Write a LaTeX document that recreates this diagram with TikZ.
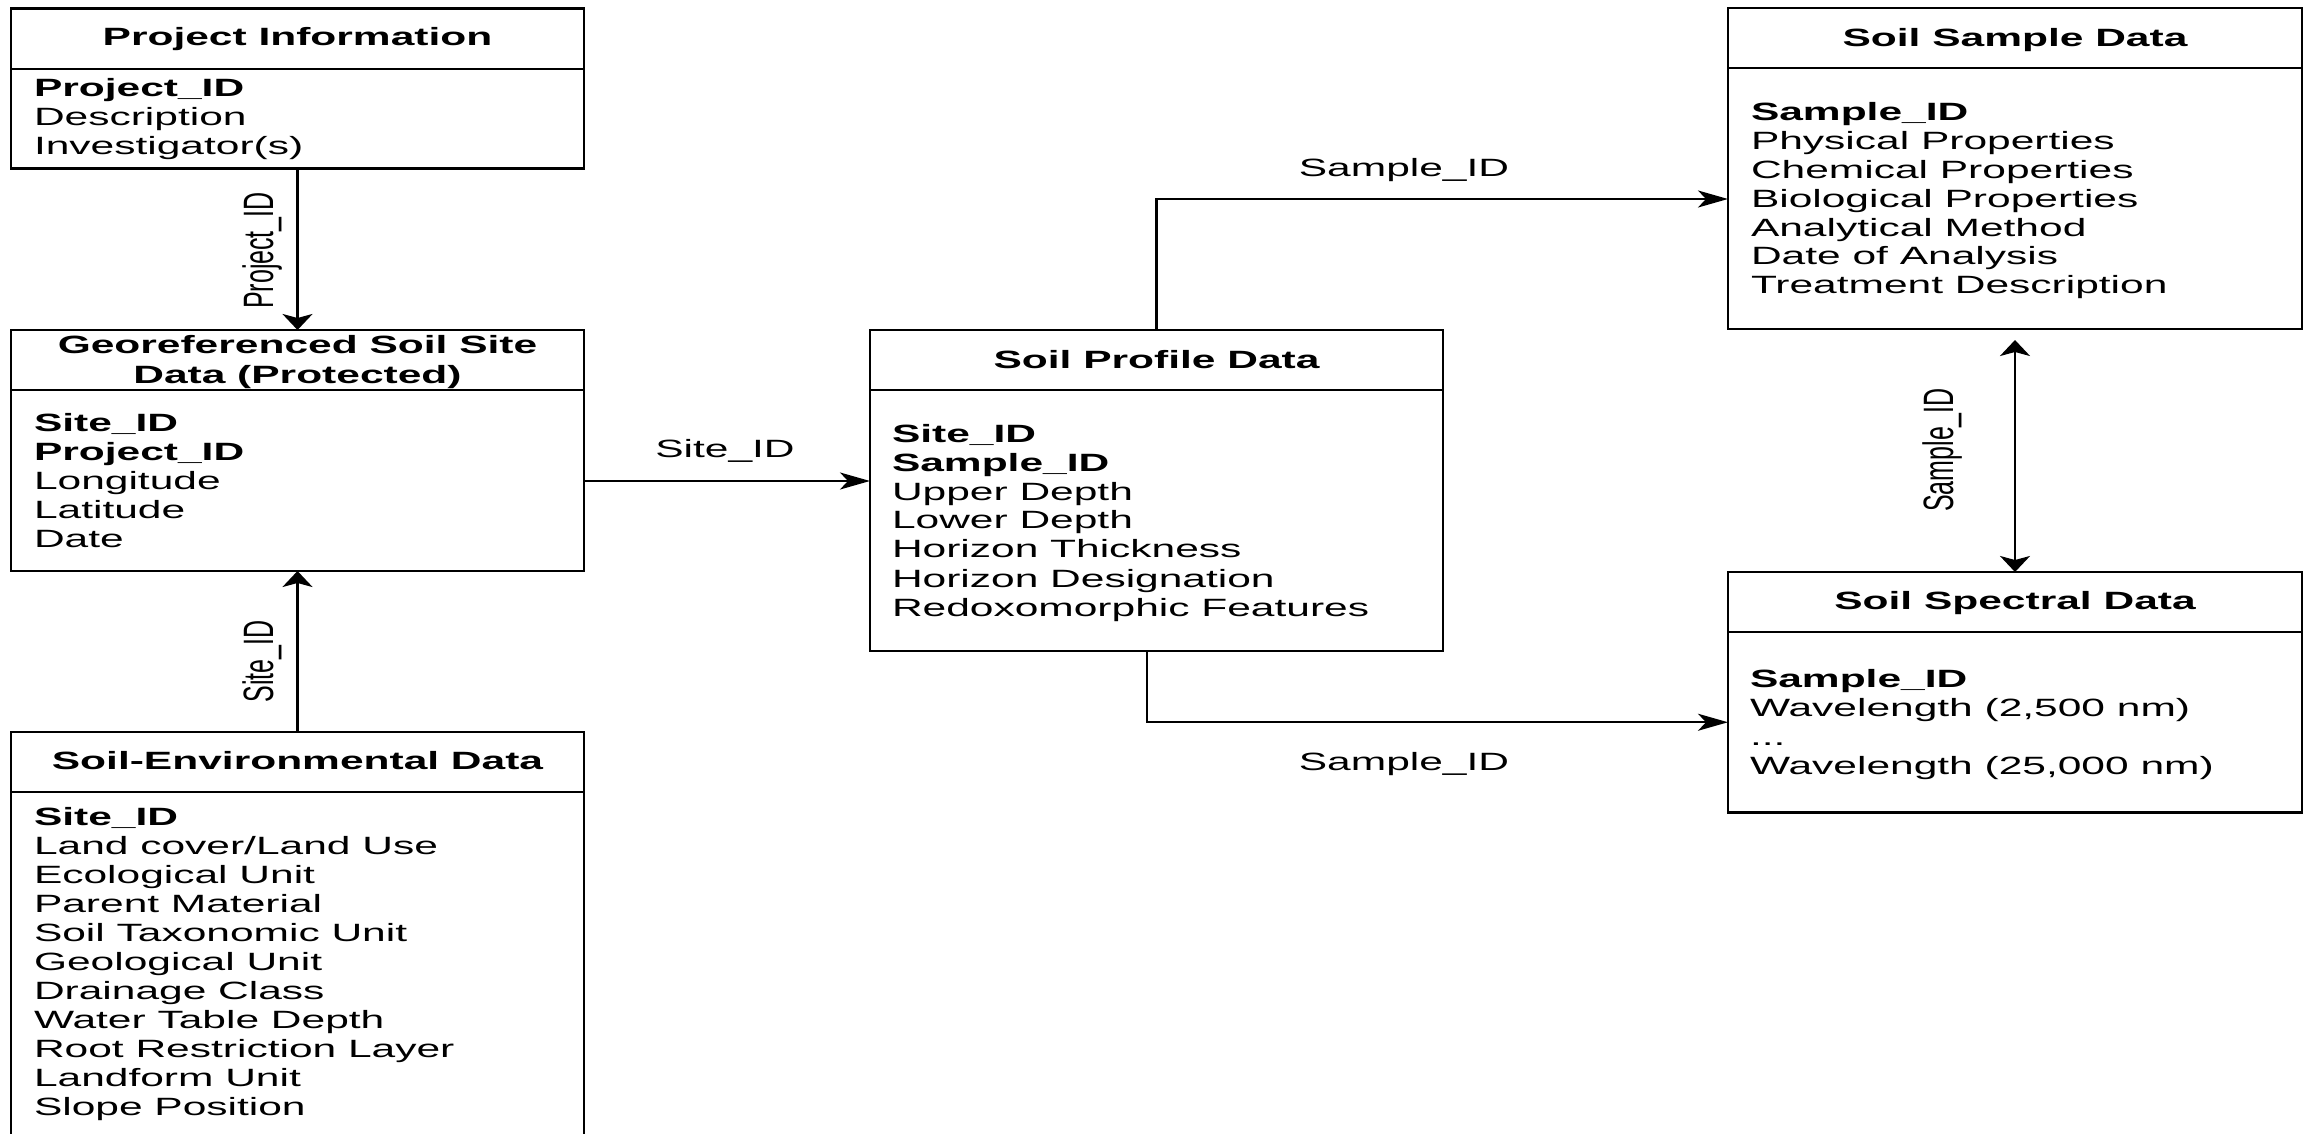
\documentclass[tikz,border=0pt]{standalone}
\usepackage{fontspec}
\usepackage{graphicx}
\setmainfont{Liberation Sans}
\newfontfamily\wf[FakeStretch=1.7]{Liberation Sans}
\usetikzlibrary{arrows.meta,calc}
\newcommand{\fl}[1]{\hbox{#1}}
\newcommand{\fieldlist}[2]{\vtop{\baselineskip=#1\relax\lineskiplimit=-10pt #2}}
\begin{document}
\begin{tikzpicture}[x=0.5pt,y=-0.5pt,
  every node/.style={font=\wf\fontsize{12.5pt}{14.5pt}\selectfont, inner sep=0pt, outer sep=0pt},
  tbox/.style={draw, line width=1.3pt, anchor=north west, minimum width=#1},
  div/.style={line width=1pt},
  ftext/.style={anchor=base west},
  htext/.style={anchor=base, font=\wf\bfseries\fontsize{12.5pt}{14.5pt}\selectfont},
  lbl/.style={anchor=base},
  vlbl/.style={anchor=base, rotate=90, font=\rmfamily\fontsize{12.5pt}{14.5pt}\selectfont},
  harrow/.style={line width=1.2pt, -{Stealth[length=15pt,width=8.5pt,inset=4pt]}},
  varrow/.style={line width=1.2pt, -{Stealth[length=8pt,width=15pt,inset=2pt]}},
  biarrow/.style={line width=1.2pt, {Stealth[length=8pt,width=15pt,inset=2pt]}-{Stealth[length=8pt,width=15pt,inset=2pt]}}
]
\useasboundingbox (0,0) rectangle (2303,1134);

% ---- boxes
\node[tbox=286.5pt, minimum height=80pt] (pi) at (11,8.5) {};
\node[tbox=286.5pt, minimum height=120.5pt] (geo) at (11,330) {};
\node[tbox=286.5pt, minimum height=210pt] (se) at (11,732) {};
\node[tbox=286.5pt, minimum height=160.5pt] (sp) at (870,330) {};
\node[tbox=287pt, minimum height=160.5pt] (ssd) at (1728,8) {};
\node[tbox=287pt, minimum height=120.25pt] (sspec) at (1728,572) {};

% ---- dividers
\draw[div] (pi.west |- 0,69) -- (pi.east |- 0,69);
\draw[div] (geo.west |- 0,390) -- (geo.east |- 0,390);
\draw[div] (se.west |- 0,792) -- (se.east |- 0,792);
\draw[div] (sp.west |- 0,390) -- (sp.east |- 0,390);
\draw[div] (ssd.west |- 0,68) -- (ssd.east |- 0,68);
\draw[div] (sspec.west |- 0,632) -- (sspec.east |- 0,632);

% ---- headers
\node[htext] (pih) at (297.5,46) {Project Information};
\node[htext] (geoh) at (297.5,353) {\vtop{\baselineskip=15pt\halign{\hfil#\hfil\cr Georeferenced Soil Site\cr Data (Protected)\cr}}};
\node[htext] (seh) at (297.5,769.5) {Soil-Environmental Data};
\node[htext] (sph) at (1156.5,368) {Soil Profile Data};
\node[htext] (ssdh) at (2015,47) {Soil Sample Data};
\node[htext] (ssph) at (2015,609) {Soil Spectral Data};

% ---- field lists
\node[ftext] (pit) at (34,97) {\fieldlist{14.5pt}{\fl{\bfseries Project\_ID}\fl{Description}\fl{Investigator(s)}}};
\node[ftext] (geot) at (34,431.5) {\fieldlist{14.5pt}{\fl{\bfseries Site\_ID}\fl{\bfseries Project\_ID}\fl{Longitude}\fl{Latitude}\fl{Date}}};
\node[ftext] (set) at (34,825) {\fieldlist{14.5pt}{\fl{\bfseries Site\_ID}\fl{Land cover/Land Use}\fl{Ecological Unit}\fl{Parent Material}\fl{Soil Taxonomic Unit}\fl{Geological Unit}\fl{Drainage Class}\fl{Water Table Depth}\fl{Root Restriction Layer}\fl{Landform Unit}\fl{Slope Position}}};
\node[ftext] (spt) at (892,442) {\fieldlist{14.5pt}{\fl{\bfseries Site\_ID}\fl{\bfseries Sample\_ID}\fl{Upper Depth}\fl{Lower Depth}\fl{Horizon Thickness}\fl{Horizon Designation}\fl{Redoxomorphic Features}}};
\node[ftext] (ssdt) at (1751,121) {\fieldlist{14.4pt}{\fl{\bfseries Sample\_ID}\fl{Physical Properties}\fl{Chemical Properties}\fl{Biological Properties}\fl{Analytical Method}\fl{Date of Analysis}\fl{Treatment Description}}};
\node[ftext] (sspt) at (1750,687) {\fieldlist{14.5pt}{\fl{\bfseries Sample\_ID}\fl{Wavelength (2,500 nm)}\fl{...}\fl{Wavelength (25,000 nm)}}};

% ---- connectors
\draw[varrow] (pi.south) -- (geo.north);
\draw[varrow] (se.north) -- (geo.south);
\coordinate (a1) at ([yshift=-15.25pt]geo.east);
\draw[harrow] (a1) -- (a1 -| sp.west);
\coordinate (u1) at ([yshift=-15.25pt]ssd.west);
\draw[harrow] (sp.north) |- (u1);
\coordinate (l0) at ([xshift=-4.75pt]sp.south);
\coordinate (l1) at ([yshift=-15pt]sspec.west);
\draw[harrow] (l0) |- (l1);
\draw[biarrow, shorten <=5.5pt] (ssd.south) -- (sspec.north);

% ---- connector labels
\node[vlbl] (lproj) at (273,250.5) {\scalebox{1}[1.7]{Project\_ID}};
\node[vlbl] (lsitev) at (273,661.5) {\scalebox{1}[1.7]{Site\_ID}};
\node[vlbl] (lsampv) at (1953,450) {\scalebox{1}[1.7]{Sample\_ID}};
\node[lbl] (lsite) at (725,457.5) {Site\_ID};
\node[lbl] (lsamp1) at (1404,176.5) {Sample\_ID};
\node[lbl] (lsamp2) at (1404,770) {Sample\_ID};
\end{tikzpicture}
\end{document}
